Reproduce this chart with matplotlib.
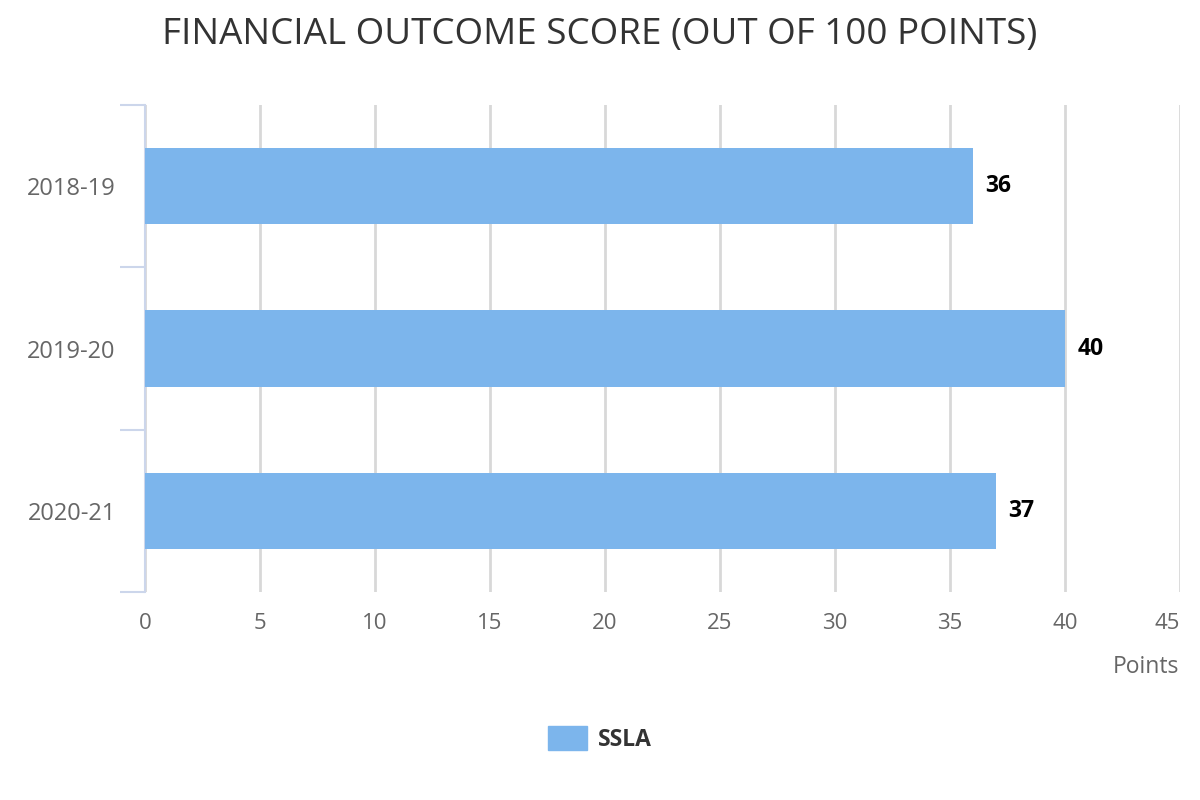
import numpy as np
import matplotlib.pyplot as plt
from matplotlib.patches import Patch

# Dados do gráfico
anos = ['2018-19', '2019-20', '2020-21']
ssla = [36, 40, 37]
ticks_x = [0, 5, 10, 15, 20, 25, 30, 35, 40, 45]

plt.rcParams['font.family'] = ['Open Sans', 'DejaVu Sans']

fig = plt.figure(figsize=(12, 8), dpi=100)
ax = fig.add_axes([145 / 1200, 1 - 592 / 800, 1035 / 1200, 487 / 800])

y = np.arange(len(anos))
bars = ax.barh(y, ssla, height=0.47, color='#7cb5ec', zorder=3, label='SSLA')

# Rótulos de valor nas barras
for rect, v in zip(bars, ssla):
    ax.text(rect.get_width() + 0.55, rect.get_y() + rect.get_height() / 2, f'{v}',
            ha='left', va='center', fontsize=16.5, fontweight='bold', color='#000000')

ax.set_xlim(0, 45)
ax.set_ylim(len(anos) - 0.5, -0.5)
ax.set_xticks(ticks_x)
ax.set_xticklabels([str(t) for t in ticks_x], fontsize=16, color='#666666')
ax.get_xticklabels()[-1].set_ha('right')
ax.tick_params(axis='x', length=0, pad=15)
ax.grid(axis='x', color='#d8d8d8', linewidth=2, zorder=0)

# Eixo y: ticks nas divisões das categorias
ax.set_yticks(y)
ax.set_yticklabels(anos, fontsize=17, color='#666666')
ax.tick_params(axis='y', length=0, pad=21)
ax.set_yticks(np.arange(-0.5, len(anos)), minor=True)
ax.tick_params(axis='y', which='minor', length=18, width=1.5, color='#ccd6eb')

for s in ['top', 'right', 'bottom']:
    ax.spines[s].set_visible(False)
ax.spines['left'].set_color('#ccd6eb')
ax.spines['left'].set_linewidth(1.5)

fig.text(0.5, 1 - 35 / 800, 'FINANCIAL OUTCOME SCORE (OUT OF 100 POINTS)',
         ha='center', va='center', fontsize=26.5, color='#333333')
fig.text(1179 / 1200, 1 - 667 / 800, 'Points', ha='right', va='center',
         fontsize=16.5, color='#666666')

fig.legend(handles=[Patch(color='#7cb5ec', label='SSLA')], loc='center',
           bbox_to_anchor=(0.5, 1 - 739 / 800), frameon=False,
           handlelength=1.7, handleheight=1.2, handletextpad=0.5,
           prop={'weight': 'bold', 'size': 16.5})
for t in fig.legends[0].get_texts():
    t.set_color('#333333')

fig.savefig('out.png', dpi=100)
